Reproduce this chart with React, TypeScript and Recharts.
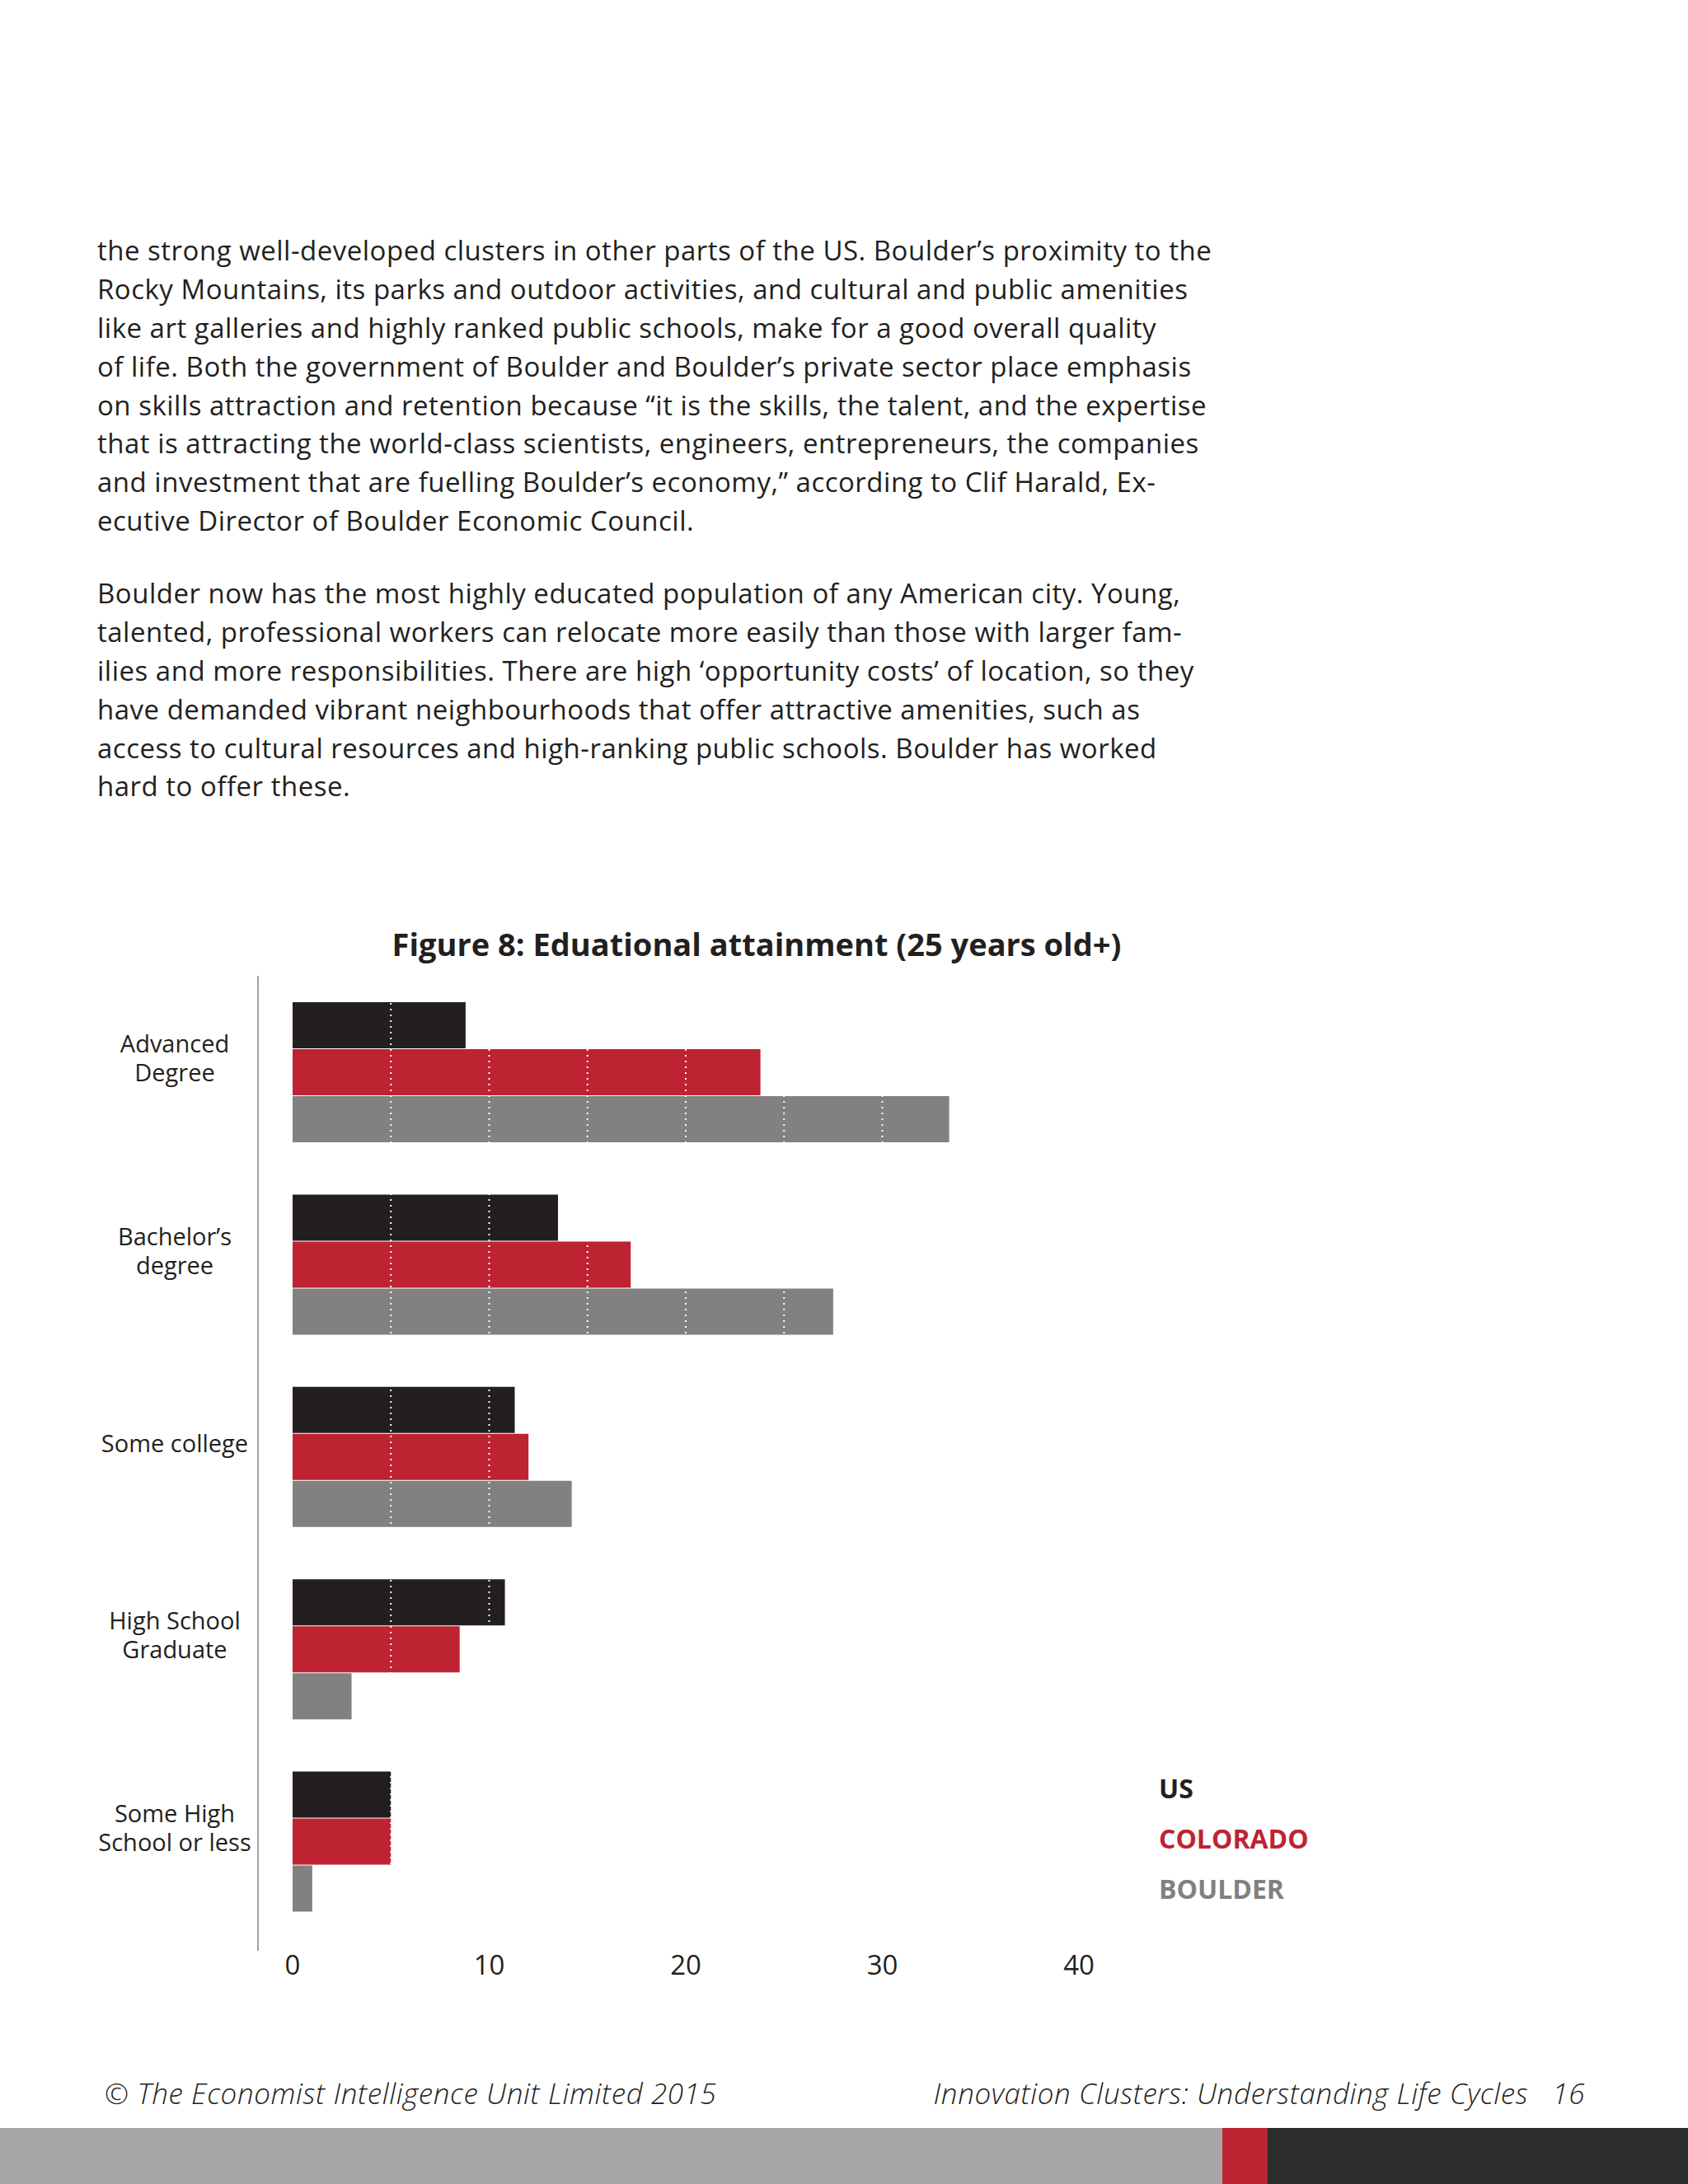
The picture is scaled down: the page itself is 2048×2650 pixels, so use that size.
import { Bar, BarChart, Legend, ReferenceLine, XAxis, YAxis } from "recharts";

const FONT = "'Open Sans', 'Noto Sans', sans-serif";

// chart data
const categories = [
  "Advanced\nDegree",
  "Bachelor’s\ndegree",
  "Some college",
  "High School\nGraduate",
  "Some High\nSchool or less",
];
const usValues = [8.8, 13.5, 11.3, 10.8, 5.0];
const coloradoValues = [23.8, 17.2, 12.0, 8.5, 5.0];
const boulderValues = [33.4, 27.5, 14.2, 3.0, 1.0];
const seriesNames = ["US", "COLORADO", "BOULDER"];
const xTicks = [0, 10, 20, 30, 40];
const gridValues = [5, 10, 15, 20, 25, 30, 35];

const paragraphOne = [
  "the strong well-developed clusters in other parts of the US. Boulder’s proximity to the",
  "Rocky Mountains, its parks and outdoor activities, and cultural and public amenities",
  "like art galleries and highly ranked public schools, make for a good overall quality",
  "of life. Both the government of Boulder and Boulder’s private sector place emphasis",
  "on skills attraction and retention because “it is the skills, the talent, and the expertise",
  "that is attracting the world-class scientists, engineers, entrepreneurs, the companies",
  "and investment that are fuelling Boulder’s economy,” according to Clif Harald, Ex-",
  "ecutive Director of Boulder Economic Council.",
];
const paragraphTwo = [
  "Boulder now has the most highly educated population of any American city. Young,",
  "talented, professional workers can relocate more easily than those with larger fam-",
  "ilies and more responsibilities. There are high ‘opportunity costs’ of location, so they",
  "have demanded vibrant neighbourhoods that offer attractive amenities, such as",
  "access to cultural resources and high-ranking public schools. Boulder has worked",
  "hard to offer these.",
];

const COLORS = { us: "#231f20", colorado: "#be2332", boulder: "#818082" };

const data = categories.map((category, i) => ({
  category,
  us: usValues[i],
  colorado: coloradoValues[i],
  boulder: boulderValues[i],
}));

function CategoryTick({ y, payload }: any) {
  const lines = String(payload.value).split("\n");
  const lineHeight = 35;
  const startDy = -((lines.length - 1) * lineHeight) / 2 - 18;
  return (
    <text
      x={212}
      y={y}
      textAnchor="middle"
      dominantBaseline="central"
      fontFamily={FONT}
      fontSize={29}
      fill="#231f20"
    >
      {lines.map((line, i) => (
        <tspan key={i} x={212} dy={i === 0 ? startDy : lineHeight}>
          {line}
        </tspan>
      ))}
    </text>
  );
}

function LegendList({ payload }: any) {
  const items = [...(payload ?? [])].sort(
    (a: any, b: any) => seriesNames.indexOf(a.value) - seriesNames.indexOf(b.value)
  );
  return (
    <div>
      {items.map((entry: any) => (
        <div
          key={entry.value}
          style={{
            color: entry.color,
            fontFamily: FONT,
            fontWeight: 700,
            fontSize: 32,
            lineHeight: "61px",
          }}
        >
          {entry.value}
        </div>
      ))}
    </div>
  );
}

const textLine = { whiteSpace: "nowrap" as const, height: 46.9, lineHeight: "46.9px" };
const footerText = {
  position: "absolute" as const,
  top: 2522,
  fontSize: 35,
  lineHeight: "35px",
  letterSpacing: 0.6,
  fontStyle: "italic",
  fontWeight: 300,
};

export default function App() {
  return (
    <div
      style={{
        position: "relative",
        width: 2048,
        height: 2650,
        background: "#ffffff",
        overflow: "hidden",
        fontFamily: FONT,
        color: "#231f20",
      }}
    >
      <style>{"body{margin:0}"}</style>

      <div style={{ position: "absolute", left: 118, top: 281, fontSize: 33, letterSpacing: 0.5 }}>
        {paragraphOne.map((line) => (
          <div key={line} style={textLine}>
            {line}
          </div>
        ))}
      </div>
      <div style={{ position: "absolute", left: 118, top: 697, fontSize: 33, letterSpacing: 0.5 }}>
        {paragraphTwo.map((line) => (
          <div key={line} style={textLine}>
            {line}
          </div>
        ))}
      </div>

      <div
        style={{
          position: "absolute",
          left: 318,
          width: 1200,
          top: 1126,
          textAlign: "center",
          fontSize: 38,
          lineHeight: "38px",
          fontWeight: 700,
          whiteSpace: "nowrap",
        }}
      >
        Figure 8: Eduational attainment (25 years old+)
      </div>

      <div style={{ position: "absolute", left: 0, top: 1100 }}>
        <BarChart
          layout="vertical"
          width={2048}
          height={1400}
          data={data}
          margin={{ top: 84, right: 739, bottom: 73, left: 0 }}
          barGap={1}
          barSize={56}
        >
          <XAxis
            type="number"
            domain={[0, 40]}
            ticks={xTicks}
            interval={0}
            axisLine={false}
            tickLine={false}
            tickSize={0}
            tickMargin={6}
            padding={{ left: 42 }}
            height={60}
            tick={{ fill: "#231f20", fontSize: 33, fontFamily: FONT }}
          />
          <YAxis
            type="category"
            dataKey="category"
            width={313}
            interval={0}
            axisLine={{ stroke: "#a3a3a3", strokeWidth: 2 }}
            tickLine={false}
            padding={{ top: 0, bottom: 16 }}
            tick={<CategoryTick />}
          />
          <Legend
            layout="vertical"
            align="center"
            verticalAlign="middle"
            wrapperStyle={{ left: 1406, top: 1039, width: 400 }}
            content={<LegendList />}
          />
          <Bar dataKey="us" name={seriesNames[0]} fill={COLORS.us} isAnimationActive={false} />
          <Bar dataKey="colorado" name={seriesNames[1]} fill={COLORS.colorado} isAnimationActive={false} />
          <Bar dataKey="boulder" name={seriesNames[2]} fill={COLORS.boulder} isAnimationActive={false} />
          {gridValues.map((v) => (
            <ReferenceLine
              key={v}
              x={v}
              stroke="#ffffff"
              strokeWidth={2}
              strokeDasharray="2 5"
            />
          ))}
        </BarChart>
      </div>

      <div style={{ ...footerText, left: 127, whiteSpace: "nowrap" }}>
        © The Economist Intelligence Unit Limited 2015
      </div>
      <div style={{ ...footerText, right: 125, whiteSpace: "pre" }}>
        {"Innovation Clusters: Understanding Life Cycles   16"}
      </div>

      <div style={{ position: "absolute", left: 0, top: 2582, width: 1483, height: 68, background: "#a6a5a7" }} />
      <div style={{ position: "absolute", left: 1483, top: 2582, width: 55, height: 68, background: "#be2332" }} />
      <div style={{ position: "absolute", left: 1538, top: 2582, width: 510, height: 68, background: "#2b2c2e" }} />
    </div>
  );
}
